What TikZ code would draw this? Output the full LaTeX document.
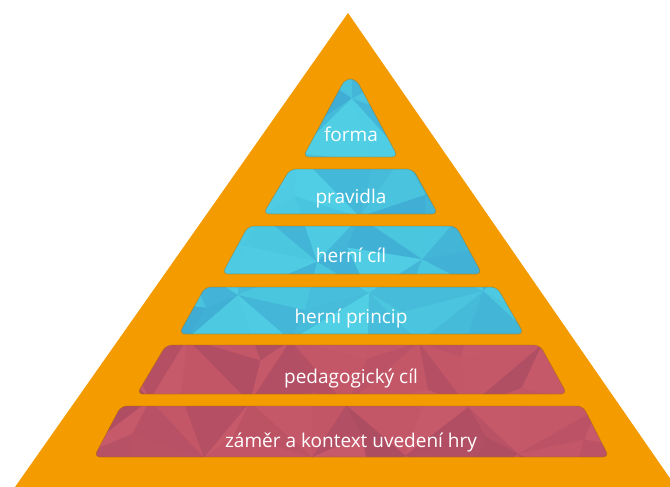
\documentclass[tikz,border=0pt]{standalone}
\usepackage{fontspec}
\setmainfont{Open Sans}
\definecolor{pyr}{HTML}{F49B00}
\definecolor{tblue}{HTML}{49C2DD}
\definecolor{tbluel}{HTML}{57D9EC}
\definecolor{tblued}{HTML}{3A9ECE}
\definecolor{tred}{HTML}{C15567}
\definecolor{tredl}{HTML}{CD606E}
\definecolor{tredd}{HTML}{A04860}
\tikzset{
  tier/.style={rounded corners=6pt},
  tieredge/.style={draw=pyr!70!black, draw opacity=0.45, line width=0.7pt},
  lbl/.style={text=white, anchor=base, font=\fontsize{19}{22}\selectfont}
}
\newcommand{\jx}[2]{14*sin(137*#1+251*#2)}
\newcommand{\jy}[2]{12*sin(173*#1+97*#2+40)}
\begin{document}
\begin{tikzpicture}[x=1pt,y=-1pt]
\useasboundingbox (0,0) rectangle (670,487);
\begin{scope}
  \clip (0,0) rectangle (670,487);
  \fill[pyr] (348,13) -- (676,487) -- (15,487) -- cycle;
\end{scope}
\pgfmathsetseed{11}
\foreach \n/\ty/\by/\tl/\tr/\bl/\br/\col/\cl/\cd/\bs/\txt in {
  forma/79/157/345/356/303/398/tblue/tbluel/tblued/141/forma,
  pravidla/169/214/290/413/263/438/tblue/tbluel/tblued/203/pravidla,
  hernicil/226/274/248/456/222/482/tblue/tbluel/tblued/262/herní cíl,
  princip/287/334/205/497/179/524/tblue/tbluel/tblued/323/herní princip,
  pedcil/345/394/166/540/137/567/tred/tredl/tredd/383/pedagogický cíl,
  zamer/406/457/121/583/94/609/tred/tredl/tredd/447/záměr a kontext uvedení hry}{
  \fill[\col, tier] (\tl,\ty) -- (\tr,\ty) -- (\br,\by) -- (\bl,\by) -- cycle;
  \begin{scope}
    \clip[tier] (\tl,\ty) -- (\tr,\ty) -- (\br,\by) -- (\bl,\by) -- cycle;
    \foreach \i in {0,...,10}{
      \foreach \j in {0,...,9}{
        \pgfmathtruncatemacro\ii{\i+1}
        \pgfmathtruncatemacro\jj{\j+1}
        \pgfmathsetmacro\ax{80+56*\i+\jx{\i}{\j}}
        \pgfmathsetmacro\ay{62+48*\j+\jy{\i}{\j}}
        \pgfmathsetmacro\bx{80+56*\ii+\jx{\ii}{\j}}
        \pgfmathsetmacro\by{62+48*\j+\jy{\ii}{\j}}
        \pgfmathsetmacro\cx{80+56*\ii+\jx{\ii}{\jj}}
        \pgfmathsetmacro\cy{62+48*\jj+\jy{\ii}{\jj}}
        \pgfmathsetmacro\dx{80+56*\i+\jx{\i}{\jj}}
        \pgfmathsetmacro\dy{62+48*\jj+\jy{\i}{\jj}}
        \pgfmathsetmacro\oa{0.1+0.5*rnd}
        \pgfmathsetmacro\ob{0.1+0.5*rnd}
        \pgfmathtruncatemacro\d{mod(\i+\j,2)}
        \pgfmathtruncatemacro\s{rnd>0.5}
        \ifnum\s=0 \def\ca{\cl}\def\cb{\cd}\else\def\ca{\cd}\def\cb{\cl}\fi
        \ifnum\d=0
          \fill[\ca, opacity=\oa] (\ax,\ay) -- (\bx,\by) -- (\cx,\cy) -- cycle;
          \fill[\cb, opacity=\ob] (\ax,\ay) -- (\cx,\cy) -- (\dx,\dy) -- cycle;
        \else
          \fill[\ca, opacity=\oa] (\ax,\ay) -- (\bx,\by) -- (\dx,\dy) -- cycle;
          \fill[\cb, opacity=\ob] (\bx,\by) -- (\cx,\cy) -- (\dx,\dy) -- cycle;
        \fi
      }
    }
  \end{scope}
  \path[tieredge, tier] (\tl,\ty) -- (\tr,\ty) -- (\br,\by) -- (\bl,\by) -- cycle;
  \node[lbl] (\n) at (351,\bs) {\txt};
}
\end{tikzpicture}
\end{document}
